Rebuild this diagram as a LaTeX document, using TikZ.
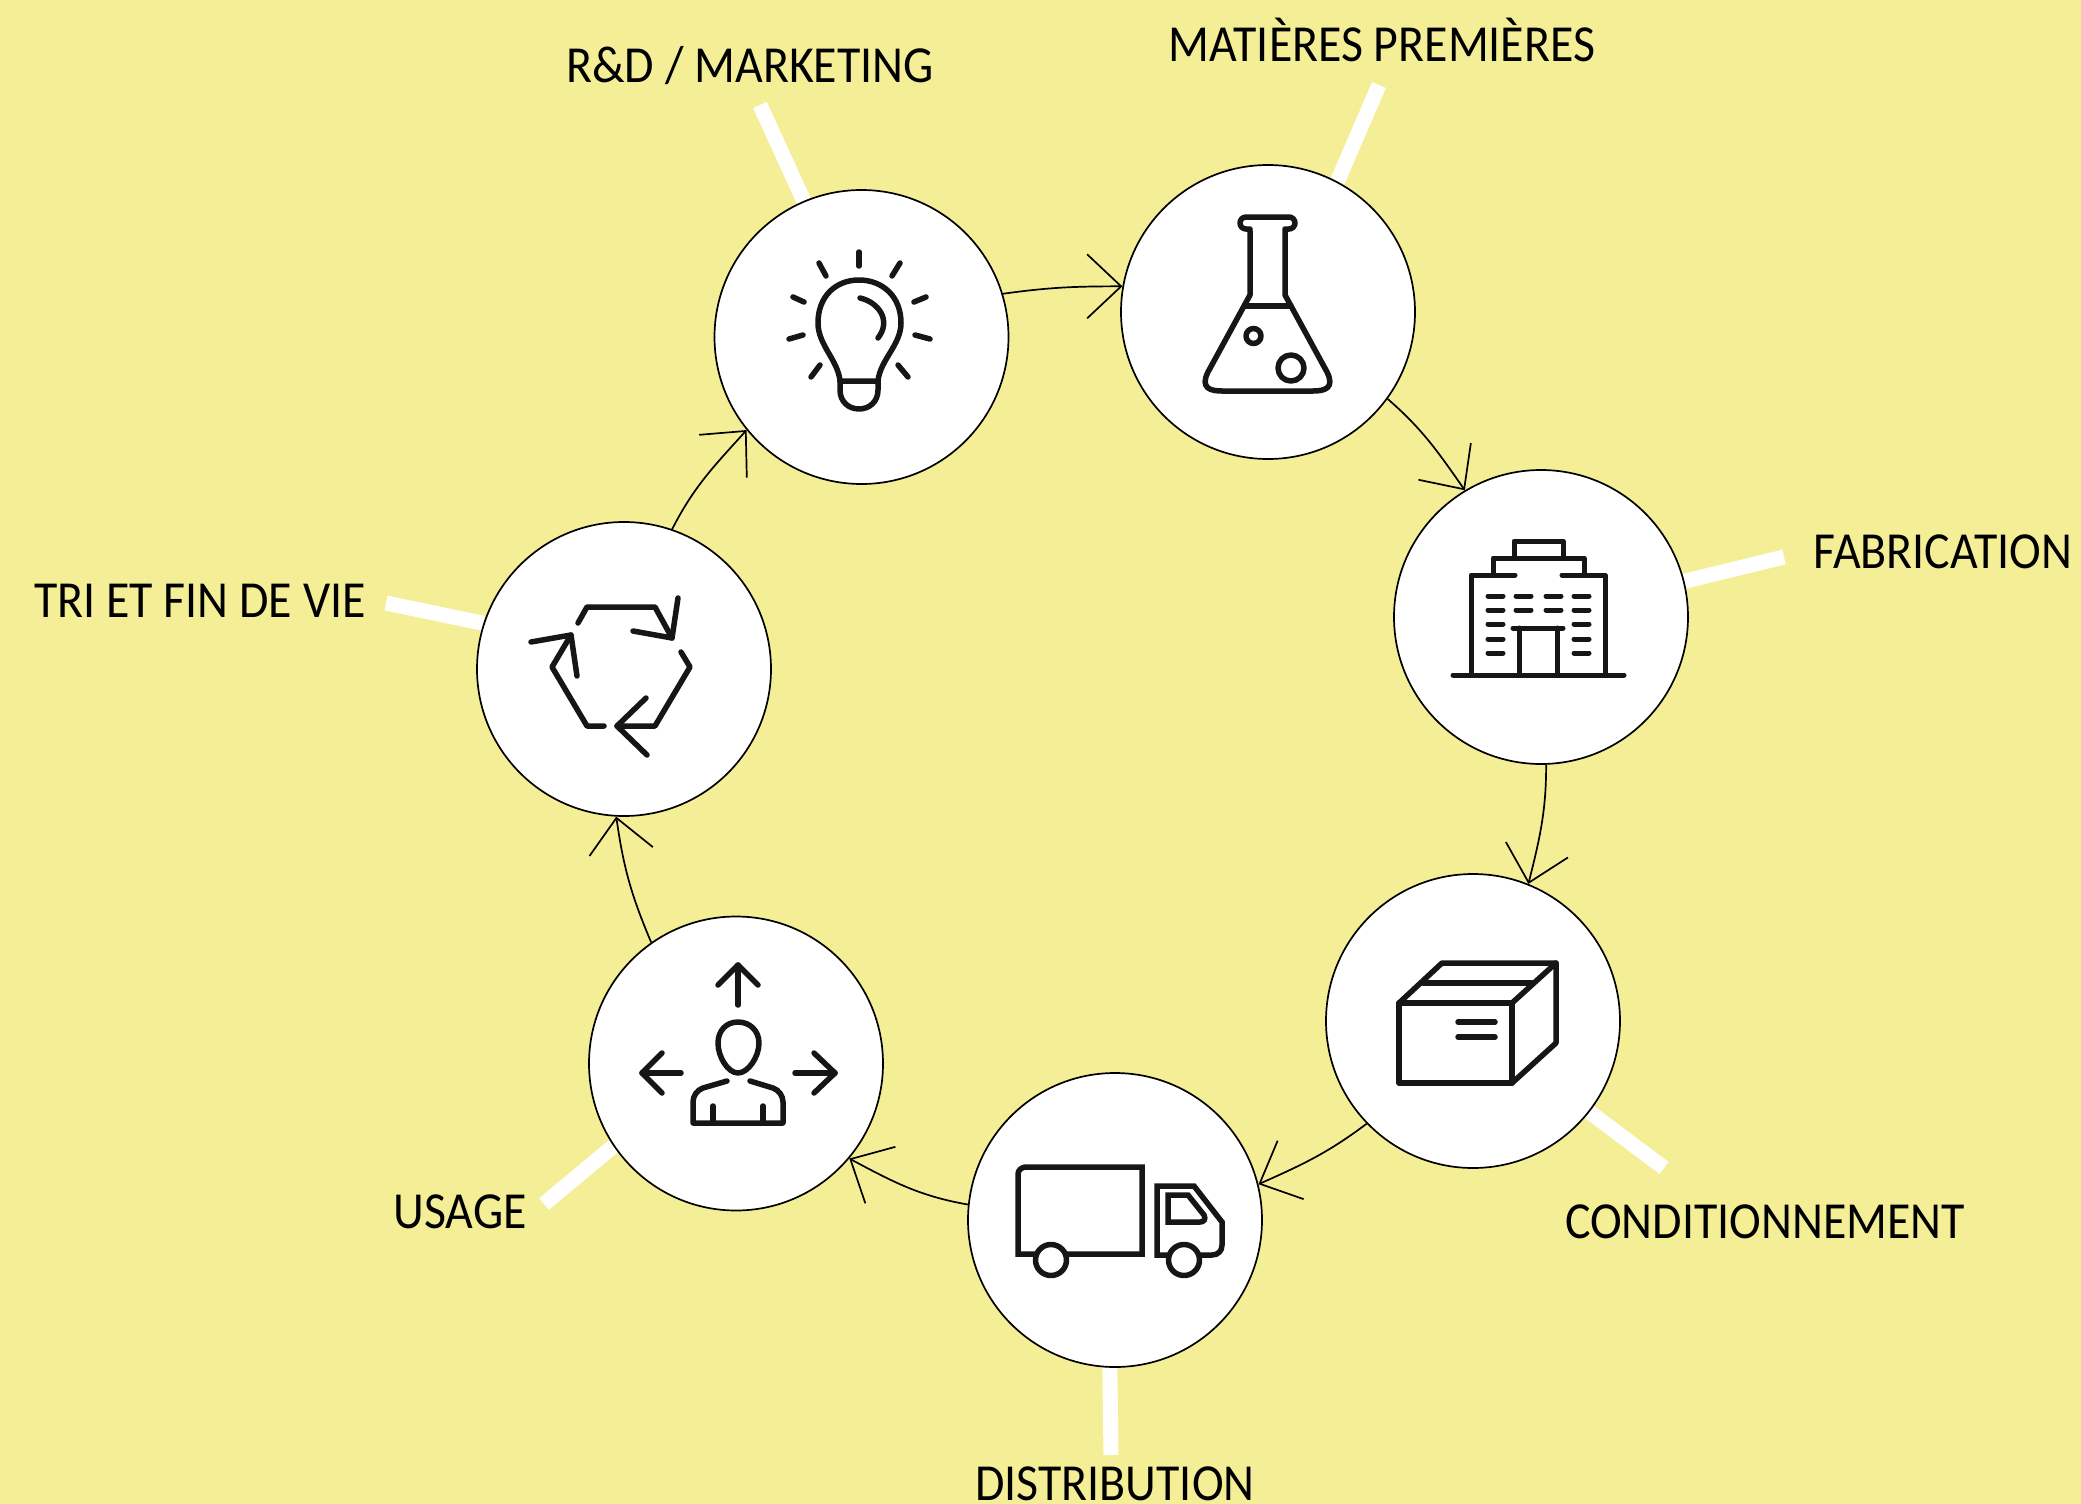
\documentclass[tikz,border=0pt]{standalone}
\usepackage{fontspec}
\usepackage{tikz}
\usetikzlibrary{arrows.meta,backgrounds}
\setmainfont[FakeStretch=0.92]{Carlito}
\definecolor{paleyellow}{HTML}{F4EF97}
\definecolor{icondark}{HTML}{161616}

\begin{document}
\begin{tikzpicture}[x=1pt,y=-1pt,
                    stage/.style={circle,draw=black,fill=white,line width=1.7pt,minimum size=294pt,inner sep=0pt},
                    caption/.style={anchor=base,inner sep=0pt,text=black,font=\fontsize{52}{60}\selectfont},
                    tick/.style={draw=white,line width=15pt},
                    flow/.style={line width=1.7pt,-{Straight Barb[length=34pt,width=64pt,line width=1.7pt]}},
                    icon/.style={draw=icondark,line width=5.5pt,line cap=round,line join=round}]
    \useasboundingbox (0,0) rectangle (2081,1504);

    % stages
    \node[stage] (rd) at (861.5,337) {};
    \node[stage] (flask) at (1268,312) {};
    \node[stage] (factory) at (1541,617) {};
    \node[stage] (box) at (1473,1021) {};
    \node[stage] (truck) at (1115,1220) {};
    \node[stage] (user) at (736,1063.5) {};
    \node[stage] (recycle) at (624,669) {};

    % captions
    \node[caption] (rdtext) at (750,82) {R\&D / MARKETING};
    \node[caption] (flasktext) at (1382,62) {MATIÈRES PREMIÈRES};
    \node[caption] (factorytext) at (1943,568) {FABRICATION};
    \node[caption] (boxtext) at (1765,1238) {CONDITIONNEMENT};
    \node[caption] (trucktext) at (1115,1500) {DISTRIBUTION};
    \node[caption] (usertext) at (460,1228) {USAGE};
    \node[caption] (recycletext) at (200,617) {TRI ET FIN DE VIE};

    \coordinate (rdend) at (760,105);
    \coordinate (flaskend) at (1379,85);
    \coordinate (factoryend) at (1784,557);
    \coordinate (boxend) at (1664,1168);
    \coordinate (truckend) at (1111,1455);
    \coordinate (userend) at (544,1204);
    \coordinate (recycleend) at (386,603);

    \begin{scope}[on background layer]
        \fill[paleyellow] (0,0) rectangle (2081,1504);
        \draw[tick] (rd.113) -- (rdend);
        \draw[tick] (flask.62) -- (flaskend);
        \draw[tick] (factory.14) -- (factoryend);
        \draw[tick] (box.-38) -- (boxend);
        \draw[tick] (truck.-92) -- (truckend);
        \draw[tick] (user.214) -- (userend);
        \draw[tick] (recycle.162) -- (recycleend);
    \end{scope}

    % connectors
    \draw[flow] (rd.17) to[out=8,in=180] (flask.170);
    \draw[flow] (flask.-36) to[out=-41,in=125] (factory.121);
    \draw[flow] (factory.-88) to[out=-90,in=76] (box.68);
    \draw[flow] (box.-136) to[out=217,in=24] (truck.14);
    \draw[flow] (truck.174) to[out=170,in=-28] (user.-40);
    \draw[flow] (user.125) to[out=113,in=-82] (recycle.-93);
    \draw[flow] (recycle.71) to[out=63,in=-132] (rd.219);

    % bulb
    \draw[icon] (840,381) .. controls (838,360) and (818,345) .. (818,323)
        .. controls (818,296) and (836,280) .. (859,280)
        .. controls (882,280) and (901,296) .. (901,323)
        .. controls (901,345) and (880,360) .. (878,381);
    \draw[icon] (840,381) -- (878,381) -- (878,390) .. controls (878,402) and (869,409) .. (859,409)
        .. controls (849,409) and (840,402) .. (840,390) -- cycle;
    \draw[icon] (860,298) .. controls (878,302) and (892,320) .. (878,338);
    \foreach \xa/\ya/\xb/\yb in {859/252/859/266, 819/263/826/276, 900/263/892/276,
                                 793/297/804/302, 926/297/914/302, 789/339/803/335,
                                 930/339/915/335, 811/377/820/365, 908/377/898/365}
        \draw[icon] (\xa,\ya) -- (\xb,\yb);

    % flask
    \draw[icon] (1250,231) -- (1250,295) -- (1208,372) .. controls (1200,388) and (1210,391) .. (1222,391)
        -- (1313,391) .. controls (1325,391) and (1335,388) .. (1327,372) -- (1285,295) -- (1285,231);
    \draw[icon,rounded corners=6pt] (1250,229) -- (1240,229) -- (1240,217) -- (1295,217) -- (1295,229) -- (1285,229);
    \draw[icon] (1246,306) -- (1291,306);
    \draw[icon] (1253.5,336) circle[radius=7.5];
    \draw[icon] (1291,368) circle[radius=13];

    % factory
    \draw[icon,line width=5pt] (1453,675) -- (1624,675);
    \draw[icon,line width=5pt] (1471,675) -- (1471,575) -- (1515,575);
    \draw[icon,line width=5pt] (1605,675) -- (1605,575) -- (1562,575);
    \draw[icon,line width=5pt] (1493,575) -- (1493,558) -- (1584,558) -- (1584,575);
    \draw[icon,line width=5pt] (1514,558) -- (1514,541) -- (1563,541) -- (1563,558);
    \draw[icon,line width=5pt] (1513,628) -- (1563,628);
    \draw[icon,line width=5pt] (1519,628) -- (1519,675);
    \draw[icon,line width=5pt] (1557,628) -- (1557,675);
    \foreach \y in {596,610} {
        \draw[icon,line width=5pt] (1516,\y) -- (1531,\y);
        \draw[icon,line width=5pt] (1546,\y) -- (1561,\y);
    }
    \foreach \y in {596,610,624,639,653} {
        \draw[icon,line width=5pt] (1488,\y) -- (1503,\y);
        \draw[icon,line width=5pt] (1574,\y) -- (1589,\y);
    }

    % box
    \draw[icon] (1399,1003) rectangle (1512,1083);
    \draw[icon] (1399,1003) -- (1442,963) -- (1556,963) -- (1556,1043) -- (1512,1083);
    \draw[icon] (1512,1003) -- (1556,963);
    \draw[icon] (1423,983) -- (1532,983);
    \draw[icon] (1458,1022) -- (1495,1022);
    \draw[icon] (1458,1037) -- (1495,1037);

    % truck
    \draw[icon,line cap=butt,line join=miter] (1035,1254) -- (1018,1254) -- (1018,1174) .. controls (1018,1170) and (1022,1167) .. (1026,1167)
        -- (1142,1167) -- (1142,1254) -- (1067,1254);
    \draw[icon,line cap=butt,line join=miter] (1168,1255) -- (1157,1255) -- (1157,1186) -- (1194,1186) -- (1222,1222) -- (1222,1245)
        .. controls (1222,1251) and (1218,1255) .. (1212,1255) -- (1200,1255);
    \draw[icon,line cap=butt,line join=miter] (1168,1195) -- (1188,1195) -- (1204,1215) .. controls (1206,1219) and (1204,1222) .. (1200,1222)
        -- (1168,1222) -- cycle;
    \draw[icon] (1051,1260) circle[radius=15.5];
    \draw[icon] (1184,1260) circle[radius=15.5];

    % user
    \draw[icon] (738,1005) -- (738,965);
    \draw[icon] (718,985) -- (738,965) -- (758,985);
    \draw[icon] (681,1073) -- (642,1073);
    \draw[icon] (662,1053) -- (642,1073) -- (662,1093);
    \draw[icon] (795,1073) -- (835,1073);
    \draw[icon] (814,1053) -- (835,1073) -- (814,1093);
    \draw[icon] (738,1022) .. controls (726,1022) and (718,1031) .. (718,1043)
        .. controls (718,1057) and (728,1073) .. (738,1073)
        .. controls (748,1073) and (759,1057) .. (759,1043)
        .. controls (759,1031) and (750,1022) .. (738,1022) -- cycle;
    \draw[icon] (727,1081) -- (703,1088) .. controls (697,1090) and (693,1096) .. (693,1102) -- (693,1123)
        -- (783,1123) -- (783,1102) .. controls (783,1096) and (779,1090) .. (773,1088) -- (750,1081);
    \draw[icon] (713,1106) -- (713,1123);
    \draw[icon] (763,1106) -- (763,1123);

    % recycling arrows
    \draw[icon] (578,623) -- (587,607) -- (655,607) -- (672,638);
    \draw[icon] (678,598) -- (672,638) -- (633,631);
    \draw[icon] (681,652) -- (690,667) -- (655,726) -- (617,726);
    \draw[icon] (646,698) -- (617,726) -- (647,755);
    \draw[icon] (604,726) -- (587,726) -- (552,667) -- (571,635);
    \draw[icon] (531,642) -- (571,635) -- (577,676);
\end{tikzpicture}
\end{document}
